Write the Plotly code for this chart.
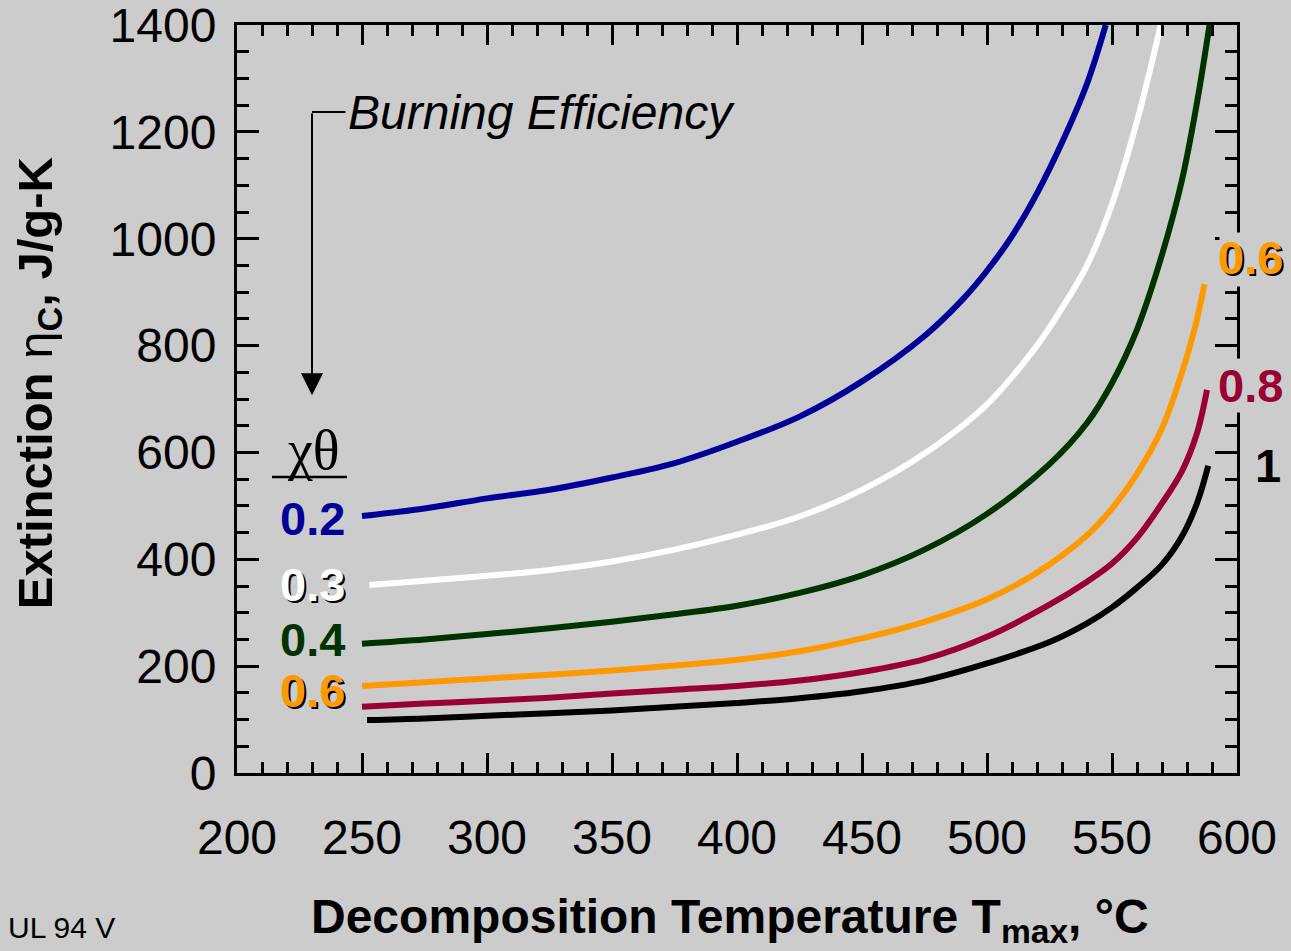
import plotly.graph_objects as go

# ---- data ----
t_02 = [250, 275, 300, 325, 350, 375, 400, 425, 450, 475, 490, 500, 510, 520, 530, 540, 547.5]
eta_02 = [481, 495, 514, 530, 553, 580, 620, 667, 733, 818, 885, 940, 1005, 1085, 1180, 1290, 1400]

t_03 = [253, 275, 300, 325, 350, 375, 400, 425, 450, 475, 500, 520, 530, 540, 550, 560, 569.5]
eta_03 = [352, 360, 369, 380, 396, 418, 446, 480, 530, 598, 690, 800, 870, 950, 1065, 1220, 1400]

t_04 = [250, 275, 300, 325, 350, 375, 400, 425, 450, 475, 500, 525, 540, 550, 560, 570, 578, 584, 589]
eta_04 = [242, 250, 260, 271, 283, 297, 313, 337, 370, 418, 485, 578, 655, 730, 830, 970, 1110, 1255, 1400]

t_06 = [250, 275, 300, 325, 350, 375, 400, 425, 450, 475, 500, 520, 540, 550, 560, 570, 578, 583, 587]
eta_06 = [163, 170, 177, 184, 192, 201, 212, 228, 252, 283, 325, 375, 445, 495, 560, 645, 750, 830, 915]

t_08 = [250, 275, 300, 325, 350, 375, 400, 425, 450, 475, 500, 525, 540, 550, 560, 570, 578, 584, 588]
eta_08 = [124, 130, 135, 141, 149, 156, 163, 173, 189, 213, 255, 315, 358, 392, 440, 505, 565, 636, 717]

t_10 = [252, 275, 300, 325, 350, 375, 400, 425, 450, 475, 500, 525, 540, 550, 560, 570, 578, 584, 588.5]
eta_10 = [99, 102, 107, 112, 117, 124, 131, 140, 153, 173, 205, 245, 280, 310, 347, 390, 443, 505, 575]

series_labels = ["0.2", "0.3", "0.4", "0.6", "0.8", "1"]
series_colors = ["#000099", "#ffffff", "#003300", "#ff9900", "#990033", "#000000"]
series_t = [t_02, t_03, t_04, t_06, t_08, t_10]
series_eta = [eta_02, eta_03, eta_04, eta_06, eta_08, eta_10]

x_tickvals = [200, 250, 300, 350, 400, 450, 500, 550, 600]
y_tickvals = [0, 200, 400, 600, 800, 1000, 1200, 1400]

BG = "#cccccc"
FONT = "Liberation Sans, Arial, sans-serif"
SERIF = "Liberation Serif, Times New Roman, serif"

fig = go.Figure()
for lab, col, tx, ey in zip(series_labels, series_colors, series_t, series_eta):
    fig.add_trace(go.Scatter(x=tx, y=ey, mode="lines", name=lab,
                             line=dict(color=col, width=6, shape="spline", smoothing=1.0),
                             showlegend=False, hoverinfo="x+y"))

axis_common = dict(showline=True, linecolor="black", linewidth=3, mirror="ticks",
                   ticks="inside", tickcolor="black", tickwidth=3,
                   showgrid=False, zeroline=False, ticklabeloverflow="allow",
                   tickfont=dict(family=FONT, size=48, color="black"))

fig.update_xaxes(range=[200, 600], tickvals=x_tickvals, ticklen=20,
                 ticklabelstandoff=20,
                 minor=dict(dtick=10, ticklen=11, tickwidth=3, ticks="inside", tickcolor="black",
                            showgrid=False),
                 **axis_common)
fig.update_yaxes(range=[0, 1400], tickvals=y_tickvals, ticklen=22,
                 ticklabelstandoff=8,
                 minor=dict(dtick=50, ticklen=12, tickwidth=3, ticks="inside", tickcolor="black",
                            showgrid=False),
                 **axis_common)

ann = []
# axis titles
ann.append(dict(text="<b>Decomposition Temperature T<sub>max</sub>, °C</b>", xref="paper", yref="paper",
                x=0.493, y=-0.197, showarrow=False, xanchor="center", yanchor="middle",
                font=dict(family=FONT, size=48, color="black")))
ann.append(dict(text="<b>Extinction </b>η<sub><b>C</b></sub><b>, J/g-K</b>", xref="paper", yref="paper",
                x=-0.199, y=0.521, showarrow=False, textangle=-90, xanchor="center", yanchor="middle",
                font=dict(family=FONT, size=49, color="black")))
ann.append(dict(text="UL 94 V", xref="paper", yref="paper", x=-0.231, y=-0.207, showarrow=False,
                xanchor="left", yanchor="middle", font=dict(family=FONT, size=30, color="black")))

# burning efficiency note + arrow
ann.append(dict(text="<i>Burning Efficiency</i>", x=243.6, y=1237, xref="x", yref="y", showarrow=False,
                xanchor="left", yanchor="middle", font=dict(family=FONT, size=48, color="black")))
ann.append(dict(text="", x=230, y=707, ax=230, ay=1237, xref="x", yref="y", axref="x", ayref="y",
                showarrow=True, arrowhead=2, arrowwidth=2, arrowsize=2.2, arrowcolor="black"))
ann.append(dict(text="χθ", x=230.4, y=604, xref="x", yref="y", showarrow=False,
                xanchor="center", yanchor="middle",
                font=dict(family=SERIF, size=56, color="black")))

# left labels
left_y = [477, 352, 249, 155]
for lab, col, yy in zip(series_labels[:4], series_colors[:4], left_y):
    if col in ("#ffffff", "#ff9900"):
        ann.append(dict(text="<b>%s</b>" % lab, x=230, y=yy, xref="x", yref="y", showarrow=False,
                        xanchor="center", yanchor="middle", xshift=2, yshift=-2,
                        font=dict(family=FONT, size=47, color="black")))
    ann.append(dict(text="<b>%s</b>" % lab, x=230, y=yy, xref="x", yref="y", showarrow=False,
                    xanchor="center", yanchor="middle",
                    font=dict(family=FONT, size=47, color=col)))

# right labels
ann.append(dict(text="<b>0.6</b>", x=1.013, y=964, xref="paper", yref="y", showarrow=False,
                xanchor="center", yanchor="middle", xshift=2, yshift=-2, bgcolor=BG, borderpad=0,
                font=dict(family=FONT, size=47, color="black")))
ann.append(dict(text="<b>0.6</b>", x=1.013, y=964, xref="paper", yref="y", showarrow=False,
                xanchor="center", yanchor="middle",
                font=dict(family=FONT, size=47, color="#ff9900")))
ann.append(dict(text="<b>0.8</b>", x=1.013, y=726, xref="paper", yref="y", showarrow=False,
                xanchor="center", yanchor="middle", bgcolor=BG, borderpad=0,
                font=dict(family=FONT, size=47, color="#990033")))
ann.append(dict(text="<b>1</b>", x=1.031, y=576, xref="paper", yref="y", showarrow=False,
                xanchor="center", yanchor="middle",
                font=dict(family=FONT, size=47, color="black")))

shapes = [
    dict(type="line", xref="x", yref="y", x0=230, x1=243.4, y0=1237, y1=1237,
         line=dict(color="black", width=2)),
    dict(type="line", xref="x", yref="y", x0=214, x1=244, y0=554, y1=554,
         line=dict(color="black", width=2.5)),
]

fig.update_layout(width=1291, height=951, paper_bgcolor=BG, plot_bgcolor=BG,
                  margin=dict(l=237, r=54, t=25, b=178, autoexpand=False),
                  annotations=ann, shapes=shapes, showlegend=False,
                  font=dict(family=FONT, color="black"))

fig.write_html("out.html", config={"displayModeBar": False},
               post_script="document.body.style.margin='0px';document.body.style.background='#cccccc';")
